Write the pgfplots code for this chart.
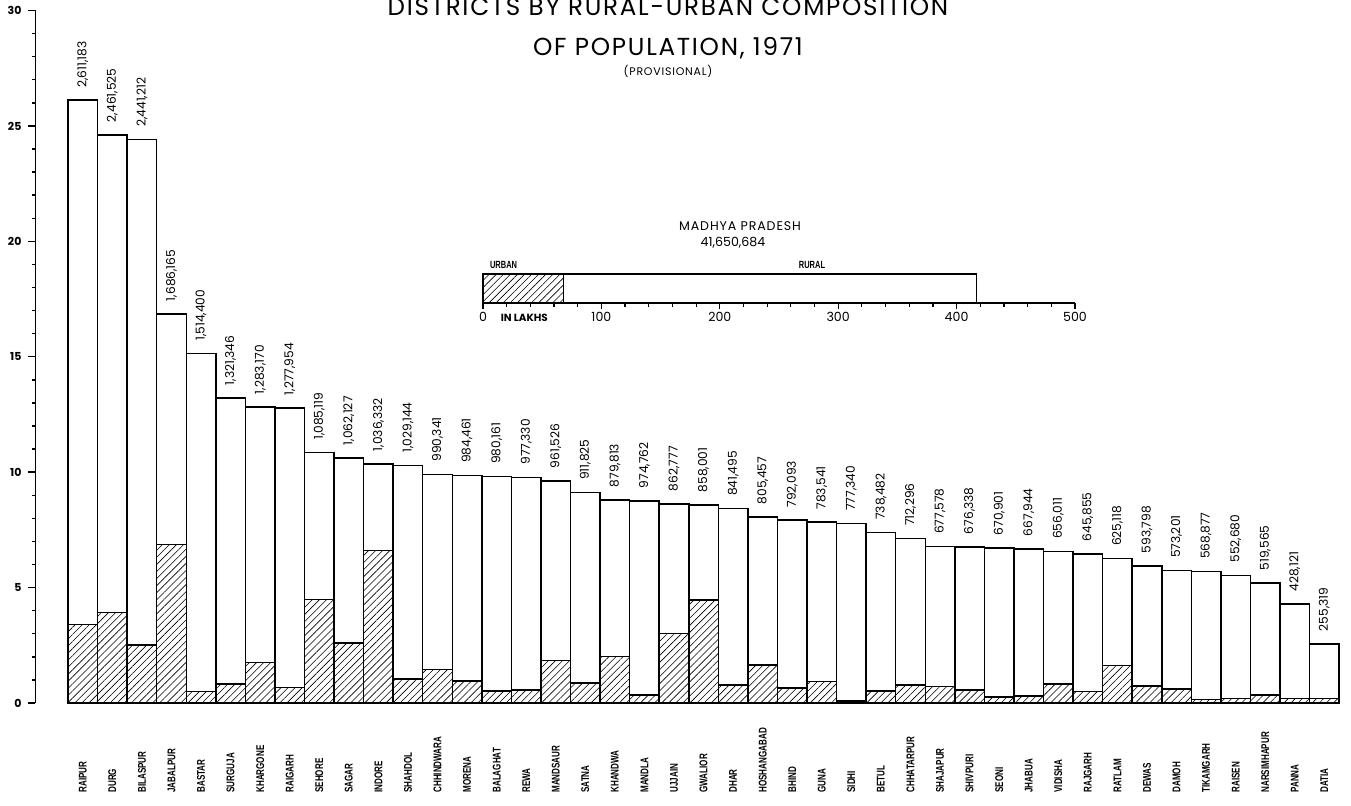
\documentclass[border=0pt]{standalone}
\usepackage{fontspec}
\setmainfont{Poppins}
\newfontfamily\catfont{Liberation Sans}[FakeStretch=0.72]
\newfontfamily\valfont{Poppins}
\newfontfamily\titlefont{Poppins}[LetterSpace=7]
\usepackage{graphicx}
\usepackage{pgfplots}
\usepackage{pgfplotstable}
\pgfplotsset{compat=1.18}
\usetikzlibrary{patterns.meta}

\pgfplotstableread{
x total urban label
0 26.11183 3.41 2,611,183
1 24.61525 3.93 2,461,525
2 24.41212 2.52 2,441,212
3 16.86165 6.86 1,686,165
4 15.14400 0.49 1,514,400
5 13.21346 0.82 1,321,346
6 12.83170 1.75 1,283,170
7 12.77954 0.68 1,277,954
8 10.85119 4.49 1,085,119
9 10.62127 2.60 1,062,127
10 10.36332 6.60 1,036,332
11 10.29144 1.04 1,029,144
12 9.90341 1.45 990,341
13 9.84461 0.96 984,461
14 9.80161 0.53 980,161
15 9.77330 0.56 977,330
16 9.61526 1.85 961,526
17 9.11825 0.86 911,825
18 8.79813 2.02 879,813
19 8.74762 0.34 974,762
20 8.62777 3.00 862,777
21 8.58001 4.46 858,001
22 8.41495 0.79 841,495
23 8.05457 1.64 805,457
24 7.92093 0.64 792,093
25 7.83541 0.93 783,541
26 7.77340 0.08 777,340
27 7.38482 0.53 738,482
28 7.12296 0.79 712,296
29 6.77578 0.71 677,578
30 6.76338 0.56 676,338
31 6.70901 0.27 670,901
32 6.67944 0.31 667,944
33 6.56011 0.82 656,011
34 6.45855 0.49 645,855
35 6.25118 1.63 625,118
36 5.93798 0.74 593,798
37 5.73201 0.61 573,201
38 5.68877 0.15 568,877
39 5.52680 0.20 552,680
40 5.19565 0.34 519,565
41 4.28121 0.20 428,121
42 2.55319 0.20 255,319
}\districts

\pgfplotstableread{
y total urban
0.5 416.50684 67.8
}\state

\begin{document}
\begin{tikzpicture}
\begin{axis}[
  at={(17.75pt,51.5pt)}, anchor=south west,
  scale only axis, width=659.2pt, height=346.25pt,
  xmin=-1.6, xmax=43, ymin=0, ymax=30,
  axis y line*=left, axis x line*=bottom,
  x axis line style={draw=none},
  y axis line style={line width=0.9pt},
  ytick={0,5,...,30}, minor y tick num=4,
  tick align=outside, major tick length=3.5pt, minor tick length=1.8pt,
  every tick/.style={line width=0.7pt, black},
  xtick={0,...,42},
  xticklabels={RAIPUR,DURG,BILASPUR,JABALPUR,BASTAR,SURGUJA,KHARGONE,RAIGARH,SEHORE,SAGAR,INDORE,SHAHDOL,CHHINDWARA,MORENA,BALAGHAT,REWA,MANDSAUR,SATNA,KHANDWA,MANDLA,UJJAIN,GWALIOR,DHAR,HOSHANGABAD,BHIND,GUNA,SIDHI,BETUL,CHHATARPUR,SHAJAPUR,SHIVPURI,SEONI,JHABUA,VIDISHA,RAJGARH,RATLAM,DEWAS,DAMOH,TIKAMGARH,RAISEN,NARSIMHAPUR,PANNA,DATIA},
  x tick style={draw=none},
  xticklabel style={font=\catfont\bfseries\fontsize{5.6}{6}\selectfont, yshift=-41.5pt, rotate=90, anchor=west, inner sep=0pt},
  yticklabel style={font=\valfont\bfseries\fontsize{5.5}{6}\selectfont},
  /pgf/number format/assume math mode=true,
  clip=false,
]
\addplot[ybar, bar width=14.78pt, bar shift=0pt, draw=black, line width=0.75pt, fill=white,
  point meta=explicit symbolic,
  nodes near coords={\rotatebox{90}{\pgfplotspointmeta}},
  nodes near coords style={font=\valfont\fontsize{6.1}{6.5}\selectfont, inner sep=0pt, yshift=6pt}]
  table[x=x, y=total, meta=label]{\districts};
\addplot[ybar, bar width=14.78pt, bar shift=0pt, draw=black, line width=0.75pt,
  pattern={Lines[angle=45, distance=2.5pt, line width=0.3pt]}]
  table[x=x, y=urban]{\districts};
\end{axis}

\begin{axis}[
  at={(241.5pt,251.5pt)}, anchor=south west,
  scale only axis, width=296pt, height=14.5pt,
  xmin=0, xmax=500, ymin=0, ymax=1,
  axis x line*=bottom, axis y line=none,
  x axis line style={line width=0.7pt},
  xtick={0,100,...,500}, minor x tick num=4,
  xticklabels={0\rlap{\hspace{1.1em}\fontsize{5.2}{6}\selectfont\bfseries IN LAKHS},100,200,300,400,500},
  tick align=outside, major tick length=3pt, minor tick length=2pt,
  every tick/.style={line width=0.6pt, black},
  xticklabel style={font=\valfont\fontsize{6.3}{7}\selectfont, yshift=2pt},
  clip=false,
]
\addplot[xbar, bar width=14.5pt, bar shift=0pt, draw=black, line width=0.6pt, fill=white]
  table[x=total, y=y]{\state};
\addplot[xbar, bar width=14.5pt, bar shift=0pt, draw=black, line width=0.6pt,
  pattern={Lines[angle=45, distance=2.5pt, line width=0.3pt]}]
  table[x=urban, y=y]{\state};
\end{axis}

\node[font=\titlefont\fontsize{12.3}{13}\selectfont] at (334pt,399.5pt) {DISTRICTS BY RURAL-URBAN COMPOSITION};
\node[font=\titlefont\fontsize{12.3}{13}\selectfont] at (334pt,379pt) {OF POPULATION, 1971};
\node[font=\titlefont\fontsize{5.5}{6}\selectfont] at (334pt,367.5pt) {(PROVISIONAL)};
\node[font=\titlefont\fontsize{6.3}{7}\selectfont] at (370pt,290pt) {MADHYA PRADESH};
\node[font=\valfont\fontsize{6.3}{7}\selectfont] at (366.5pt,281.5pt) {41,650,684};
\node[font=\catfont\bfseries\fontsize{5.2}{6}\selectfont, anchor=west] at (241.5pt,270.5pt) {URBAN};
\node[font=\catfont\bfseries\fontsize{5.2}{6}\selectfont] at (406pt,270.5pt) {RURAL};

\pgfresetboundingbox
\useasboundingbox (0,0) rectangle (675.5pt,403pt);
\end{tikzpicture}
\end{document}
